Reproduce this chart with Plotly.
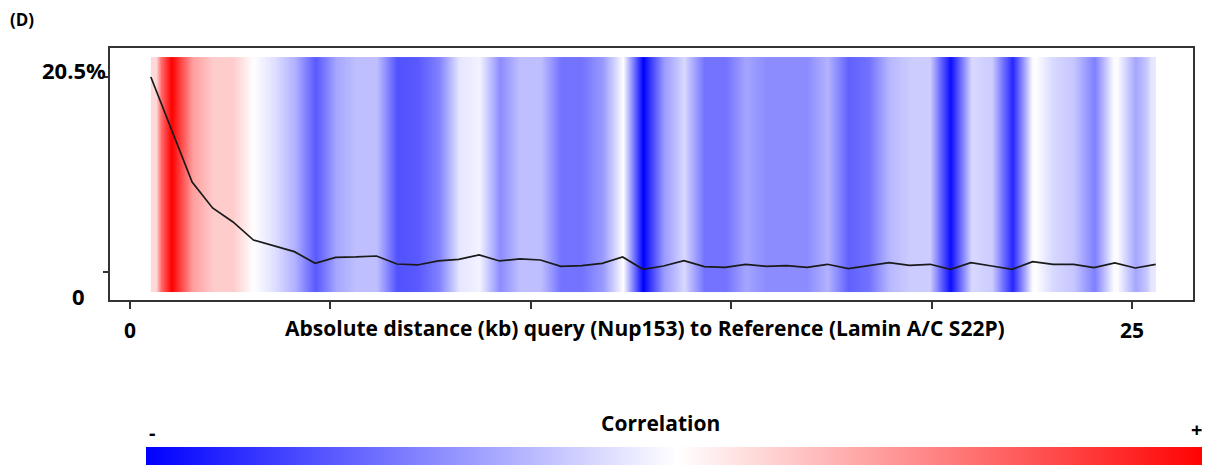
import plotly.graph_objects as go

# Bin positions (kb) of query-to-reference distance bins
distance_kb = [0.52, 1.04, 1.55, 2.06, 2.57, 3.08, 3.59, 4.10, 4.62, 5.13,
               5.64, 6.15, 6.66, 7.17, 7.69, 8.20, 8.71, 9.22, 9.73, 10.24,
               10.75, 11.27, 11.78, 12.29, 12.80, 13.31, 13.82, 14.33, 14.85, 15.36,
               15.87, 16.38, 16.89, 17.40, 17.92, 18.43, 18.94, 19.45, 19.96, 20.47,
               20.98, 21.50, 22.01, 22.52, 23.03, 23.54, 24.05, 24.57, 25.08, 25.59]

# Percentage of query sites in each distance bin
percent = [20.5, 15.0, 9.46, 6.73, 5.26, 3.36, 2.75, 2.14, 0.91, 1.54,
           1.58, 1.68, 0.84, 0.74, 1.16, 1.33, 1.79, 1.16, 1.37, 1.26,
           0.60, 0.67, 0.91, 1.58, 0.28, 0.63, 1.19, 0.56, 0.49, 0.81,
           0.60, 0.67, 0.49, 0.81, 0.35, 0.67, 0.98, 0.70, 0.81, 0.28,
           0.98, 0.63, 0.28, 1.09, 0.81, 0.81, 0.46, 0.95, 0.42, 0.81]

# Correlation per bin (-1 .. +1)
correlation = [0.15, 1.0, 0.38, 0.2, 0.2, 0.0, -0.12, -0.3, -0.65, -0.35,
               -0.25, -0.25, -0.68, -0.65, -0.5, -0.1, -0.05, -0.45, -0.25, -0.25,
               -0.55, -0.55, -0.4, 0.0, -1.0, -0.4, -0.15, -0.55, -0.55, -0.35,
               -0.45, -0.45, -0.45, -0.3, -0.62, -0.55, -0.28, -0.2, -0.2, -0.95,
               -0.15, -0.2, -0.85, 0.02, -0.15, -0.22, -0.5, 0.03, -0.35, -0.1]

x_tick_vals = [0, 5, 10, 15, 20, 25]
x_tick_text = ["0", "", "", "", "", "25"]
y_tick_vals = [0, 20.5]

# heatmap cell edges: span from first to last bin, split at midpoints
heat_edges = ([distance_kb[0]]
              + [(a + b) / 2 for a, b in zip(distance_kb[:-1], distance_kb[1:])]
              + [distance_kb[-1]])

FONT = "Open Sans"
OFF = 8  # default page body margin
W, H = 1210 - OFF, 465 - OFF
L, T = 110 - OFF, 48 - OFF
PW, PH = 1083, 252
R, B = W - L - PW, H - T - PH


def px(xp):
    return (xp - OFF - L) / PW


def py(yp):
    return (T + PH - (yp - OFF)) / PH


fig = go.Figure()

fig.add_trace(go.Heatmap(
    x=heat_edges,
    y=[-2.10, 10.25, 22.60],
    z=[correlation, correlation],
    zmin=-1, zmax=1,
    zsmooth="best",
    colorscale=[[0, "#0000ff"], [0.5, "#ffffff"], [1, "#ff0000"]],
    hoverinfo="skip",
    colorbar=dict(
        orientation="h",
        x=px(146), xanchor="left",
        y=py(447), yanchor="top",
        lenmode="pixels", len=1062,
        thicknessmode="pixels", thickness=20,
        xpad=0, ypad=0,
        outlinewidth=0,
        ticks="", showticklabels=False,
    ),
))

fig.add_trace(go.Scatter(
    x=distance_kb, y=percent,
    mode="lines",
    line=dict(color="#1a1a1a", width=1.7),
    hoverinfo="skip",
    showlegend=False,
))

fig.update_layout(
    width=W, height=H,
    margin=dict(l=L, r=R, t=T, b=B, autoexpand=False),
    paper_bgcolor="white",
    plot_bgcolor="white",
    showlegend=False,
    font=dict(family=FONT, color="black"),
    xaxis=dict(
        range=[-0.499, 26.52],
        tickmode="array", tickvals=x_tick_vals, ticktext=x_tick_text,
        ticks="outside", ticklen=7, tickwidth=2, tickcolor="#333",
        ticklabelstandoff=4,
        tickfont=dict(family=FONT, size=21, color="black", weight="bold"),
        showline=True, linecolor="#333", linewidth=2, mirror=True,
        showgrid=False, zeroline=False,
    ),
    yaxis=dict(
        range=[-2.944, 23.55],
        tickmode="array", tickvals=y_tick_vals, ticktext=["", ""],
        ticks="outside", ticklen=5, tickwidth=2, tickcolor="#333",
        showline=True, linecolor="#333", linewidth=2, mirror=True,
        showgrid=False, zeroline=False,
    ),
)

bold = dict(family=FONT, color="black", weight="bold")
annotations = [
    dict(text="(D)", x=px(22), y=py(20), size=17),
    dict(text="20.5%", x=px(108), y=py(70), size=22, xanchor="right"),
    dict(text="0", x=px(78), y=py(296), size=22),
    dict(text="Absolute distance (kb) query (Nup153) to Reference (Lamin A/C S22P)",
         x=px(645), y=py(328), size=21),
    dict(text="Correlation", x=px(660), y=py(423), size=21),
    dict(text="-", x=px(152), y=py(432), size=20),
    dict(text="+", x=px(1196), y=py(429), size=20),
]
for a in annotations:
    fig.add_annotation(
        text=a["text"], x=a["x"], y=a["y"], xref="paper", yref="paper",
        xanchor=a.get("xanchor", "center"), yanchor="middle",
        showarrow=False, font=dict(size=a["size"], **bold),
    )

fig.write_html("out.html")
